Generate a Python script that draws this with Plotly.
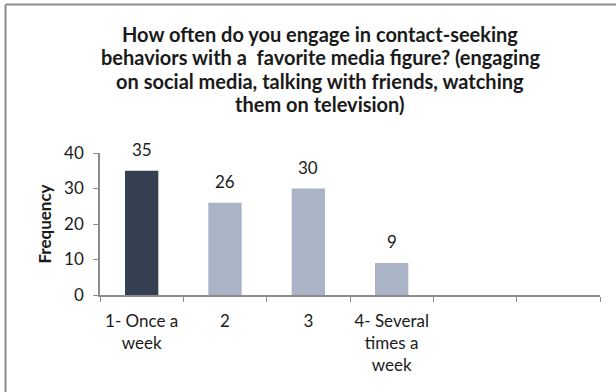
import plotly.graph_objects as go

# Survey responses: frequency of contact-seeking behaviours
categories = ["1- Once a<br>week", "2", "3", "4- Several<br>times a<br>week", " ", "  "]
counts = [35, 26, 30, 9, None, None]
bar_colors = ["#353F52", "#AAB4C6", "#AAB4C6", "#AAB4C6", "#AAB4C6", "#AAB4C6"]
count_labels = ["35", "26", "30", "9", "", ""]
y_ticks = [0, 10, 20, 30, 40]

title_lines = [
    "How often do you engage in contact-seeking",
    "behaviors with a  favorite media figure? (engaging",
    "on social media, talking with friends, watching",
    "them on television)",
]

W, H = 616, 392
ML, MR, MT, MB = 100, 16, 153, 97
pw, ph = W - ML - MR, H - MT - MB
TEXT = "#1a1a1a"
AXIS = "#8c8c8c"

def px_x(px):
    return (px - ML) / pw

def px_y(py):
    return (H - MB - py) / ph

fig = go.Figure(
    go.Bar(
        x=categories,
        y=counts,
        marker=dict(color=bar_colors, line=dict(width=0)),
        hoverinfo="skip",
    )
)

# value labels above each bar (category index on the x axis)
for i, (val, lab) in enumerate(zip(counts, count_labels)):
    if val is None:
        continue
    fig.add_annotation(
        x=i, y=val, text=lab, showarrow=False,
        xref="x", yref="y", yanchor="bottom", yshift=9,
        font=dict(family="Lato", size=17, color=TEXT),
    )

# chart title, one line at a time with tight leading
for k, line in enumerate(title_lines):
    fig.add_annotation(
        x=px_x(320), y=px_y(34 + 23.5 * k), xref="paper", yref="paper",
        xanchor="center", yanchor="middle",
        text=line, showarrow=False,
        font=dict(family="Lato", size=20, color=TEXT, weight="bold"),
    )

fig.update_layout(
    width=W,
    height=H,
    margin=dict(l=ML, r=MR, t=MT, b=MB),
    paper_bgcolor="white",
    plot_bgcolor="white",
    bargap=0.6,
    showlegend=False,
    font=dict(family="Lato", color=TEXT),
)

fig.update_xaxes(
    type="category",
    categoryorder="array",
    categoryarray=categories,
    range=[-0.5, len(categories) - 0.5],
    automargin=False,
    tickangle=0,
    showline=True,
    linecolor=AXIS,
    linewidth=1.5,
    ticks="outside",
    tickson="boundaries",
    ticklen=5,
    tickcolor=AXIS,
    ticklabelstandoff=10,
    tickfont=dict(family="Lato", size=17, color=TEXT),
    showgrid=False,
    zeroline=False,
)

fig.update_yaxes(
    range=[0, 40],
    tickvals=y_ticks,
    automargin=False,
    showline=True,
    linecolor=AXIS,
    linewidth=1.5,
    ticks="outside",
    ticklen=5,
    tickcolor=AXIS,
    ticklabelstandoff=6,
    tickfont=dict(family="Lato", size=17, color=TEXT),
    showgrid=False,
    zeroline=False,
    title=dict(
        text="Frequency",
        font=dict(family="Lato", size=17, color=TEXT, weight="bold"),
        standoff=8,
    ),
)

# chart frame along the top and left edges
fig.add_shape(type="line", xref="paper", yref="paper",
              x0=px_x(5.5), x1=px_x(W + 5), y0=px_y(4.5), y1=px_y(4.5),
              line=dict(color=AXIS, width=2))
fig.add_shape(type="line", xref="paper", yref="paper",
              x0=px_x(5.5), x1=px_x(5.5), y0=px_y(4.5), y1=px_y(H + 5),
              line=dict(color=AXIS, width=2))

fig.write_html("out.html")
